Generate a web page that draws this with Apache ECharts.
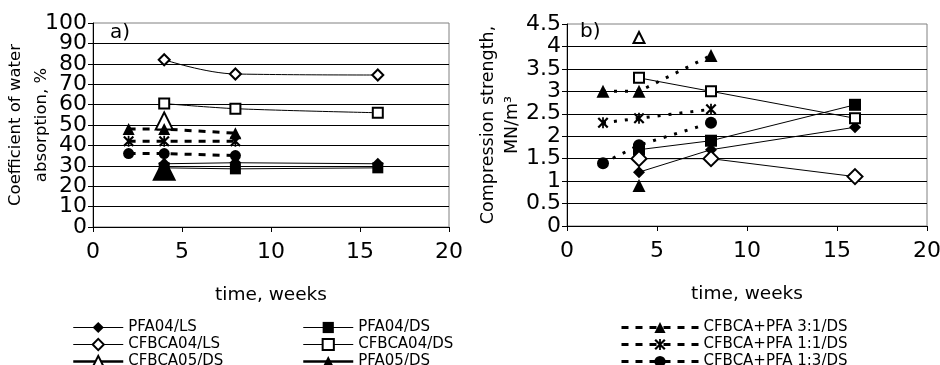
<!DOCTYPE html>
<html><head><meta charset="utf-8">
<script src="https://cdn.jsdelivr.net/npm/echarts@6/dist/echarts.min.js"></script>
<style>html,body{margin:0;padding:0;background:#fff}#c{width:940px;height:365px}</style>
</head><body><div id="c"></div>
<script>
// ---- x values (weeks) ----
const weeksLong = [4, 8, 16];
const weeksBlend = [2, 4, 8];
const weeksSingle = [4];

// ---- axis ticks ----
const xTicks = [0, 5, 10, 15, 20];
const yTicksA = [0, 10, 20, 30, 40, 50, 60, 70, 80, 90, 100];
const yTicksB = [0, 0.5, 1, 1.5, 2, 2.5, 3, 3.5, 4, 4.5];

// ---- a) coefficient of water absorption, % ----
const absPFA04LS = [31, 31.5, 31];
const absPFA04DS = [29, 28.5, 29];
const absCFBCA04LS = [82, 75, 74.5];
const absCFBCA04DS = [60.5, 58, 56];
const absCFBCA05DS = [52];
const absPFA05DS = [28.5];
const abs31 = [48, 48, 46];
const abs11 = [42, 42, 42];
const abs13 = [36, 36, 35];

// ---- b) compression strength, MN/m3 ----
const csPFA04LS = [1.2, 1.7, 2.2];
const csPFA04DS = [1.7, 1.9, 2.7];
const csCFBCA04LS = [1.5, 1.5, 1.1];
const csCFBCA04DS = [3.3, 3.0, 2.4];
const csCFBCA05DS = [4.2];
const csPFA05DS = [0.9];
const cs31 = [3.0, 3.0, 3.8];
const cs11 = [2.3, 2.4, 2.6];
const cs13 = [1.4, 1.8, 2.3];

const namesCol1 = ['PFA04/LS', 'CFBCA04/LS', 'CFBCA05/DS'];
const namesCol2 = ['PFA04/DS', 'CFBCA04/DS', 'PFA05/DS'];
const namesBlend = ['CFBCA+PFA 3:1/DS', 'CFBCA+PFA 1:1/DS', 'CFBCA+PFA 1:3/DS'];
const thickLegendNames = ['CFBCA05/DS', 'PFA05/DS'];

const FONT = 'DejaVu Sans';
const ASTER = 'path://M0,1.4L1.4,0L10,8.6L8.6,10ZM8.6,0L10,1.4L1.4,10L0,8.6ZM4.2,0L5.8,0L5.8,10L4.2,10Z';

function pairs(xs, ys) { return xs.map((x, i) => [x, ys[i]]); }

// y axis index: chart a uses 0 (plus a label-only twin at 1), chart b uses 2
function mk(name, g, xs, ys, symbol, size, open, lw, dash, smooth) {
  return {
    type: 'line', name: name, xAxisIndex: g, yAxisIndex: g === 0 ? 0 : 2,
    data: pairs(xs, ys), symbol: symbol, symbolSize: size, showSymbol: true,
    smooth: smooth || false, animation: false, silent: true,
    lineStyle: { color: '#000', width: lw, type: dash || 'solid' },
    itemStyle: open ? { color: '#fff', borderColor: '#000', borderWidth: 2 }
                    : { color: '#000', borderWidth: 0 },
    emphasis: { disabled: true }
  };
}

const series = [
  // chart a
  mk('PFA04/LS', 0, weeksLong, absPFA04LS, 'diamond', 12, false, 1),
  mk('PFA04/DS', 0, weeksLong, absPFA04DS, 'rect', 11, false, 1),
  mk('CFBCA04/LS', 0, weeksLong, absCFBCA04LS, 'diamond', 11, true, 1, null, 0.4),
  mk('CFBCA04/DS', 0, weeksLong, absCFBCA04DS, 'rect', 10, true, 1, null, 0.3),
  mk('CFBCA05/DS', 0, weeksSingle, absCFBCA05DS, 'triangle', 17, true, 2.5),
  mk('PFA05/DS', 0, weeksSingle, absPFA05DS, 'triangle', 24, false, 2.5),
  mk('CFBCA+PFA 3:1/DS', 0, weeksBlend, abs31, 'triangle', 12, false, 3, [7, 7]),
  mk('CFBCA+PFA 1:1/DS', 0, weeksBlend, abs11, ASTER, 11, false, 3, [7, 7]),
  mk('CFBCA+PFA 1:3/DS', 0, weeksBlend, abs13, 'circle', 11, false, 3, [7, 7]),
  // chart b
  mk('PFA04/LS', 1, weeksLong, csPFA04LS, 'diamond', 12, false, 1),
  mk('PFA04/DS', 1, weeksLong, csPFA04DS, 'rect', 12, false, 1),
  mk('CFBCA04/LS', 1, weeksLong, csCFBCA04LS, 'diamond', 15, true, 1),
  mk('CFBCA04/DS', 1, weeksLong, csCFBCA04DS, 'rect', 10, true, 1),
  mk('CFBCA05/DS', 1, weeksSingle, csCFBCA05DS, 'triangle', 11, true, 2.5),
  mk('PFA05/DS', 1, weeksSingle, csPFA05DS, 'triangle', 13, false, 2.5),
  mk('CFBCA+PFA 3:1/DS', 1, weeksBlend, cs31, 'triangle', 13, false, 3, [3, 8]),
  mk('CFBCA+PFA 1:1/DS', 1, weeksBlend, cs11, ASTER, 11, false, 3, [3, 8]),
  mk('CFBCA+PFA 1:3/DS', 1, weeksBlend, cs13, 'circle', 12, false, 3, [3, 8])
];

function xAx(g) {
  return {
    gridIndex: g, type: 'value', min: xTicks[0], max: xTicks[xTicks.length - 1],
    interval: xTicks[1] - xTicks[0],
    axisLine: { show: true, onZero: false, lineStyle: { color: '#000', width: 1 } },
    axisTick: { show: true, length: 5, lineStyle: { color: '#000' } },
    axisLabel: { fontSize: 22, color: '#000', fontFamily: FONT, margin: 14, showMinLabel: true, showMaxLabel: true, hideOverlap: false },
    splitLine: { show: false },
    name: 'time, weeks', nameLocation: 'middle', nameGap: 59, nameMoveOverlap: false,
    nameTextStyle: { fontSize: 18.5, color: '#000', fontFamily: FONT }
  };
}
function yAx(g, ticks, name, gap, lh, fs, labelValues) {
  const ax = {
    gridIndex: g, type: 'value', min: ticks[0], max: ticks[ticks.length - 1],
    interval: ticks[1] - ticks[0],
    axisLine: { show: true, onZero: false, lineStyle: { color: '#000', width: 1 } },
    axisTick: { show: true, length: 5, lineStyle: { color: '#000' } },
    axisLabel: { fontSize: 22, color: '#000', fontFamily: FONT, margin: 6, showMinLabel: true, showMaxLabel: true, hideOverlap: false },
    splitLine: { show: true, showMinLine: false, showMaxLine: false, lineStyle: { color: '#000', width: 1 } },
    name: name, nameLocation: 'middle', nameRotate: 90, nameGap: gap, nameMoveOverlap: false,
    nameTextStyle: { fontSize: fs, color: '#000', fontFamily: FONT, lineHeight: lh }
  };
  if (labelValues) ax.axisLabel.customValues = labelValues;
  return ax;
}
// twin axis on the same grid that carries only the remaining tick labels
function yTwin(g, ticks, labelValues) {
  return {
    gridIndex: g, type: 'value', position: 'left', offset: 0,
    min: ticks[0], max: ticks[ticks.length - 1], interval: ticks[1] - ticks[0],
    axisLine: { show: false }, axisTick: { show: false }, splitLine: { show: false },
    axisLabel: { fontSize: 22, color: '#000', fontFamily: FONT, margin: 6, showMinLabel: true, showMaxLabel: true, hideOverlap: false, customValues: labelValues }
  };
}
function lg(left, names, w, lw) {
  return {
    orient: 'vertical', left: left, top: 320, height: 80, selectedMode: false,
    data: names.map(n => ({ name: n, lineStyle: { width: thickLegendNames.indexOf(n) >= 0 ? 2.5 : lw } })),
    itemWidth: w, itemHeight: 14, itemGap: 2, padding: 0,
    textStyle: { fontSize: 15, color: '#000', fontFamily: FONT, lineHeight: 14 }
  };
}

const yLabelsA1 = yTicksA.filter((v, i) => i % 2 === 0);
const yLabelsA2 = yTicksA.filter((v, i) => i % 2 === 1);

const chart = echarts.init(document.getElementById('c'), null, { renderer: 'canvas' });
chart.setOption({
  backgroundColor: '#fff',
  animation: false,
  grid: [
    { left: 93, top: 23, width: 356, height: 204, show: true, borderColor: '#808080', borderWidth: 1, backgroundColor: 'transparent', containLabel: false, outerBoundsMode: 'none' },
    { left: 567, top: 24, width: 360, height: 202, show: true, borderColor: '#808080', borderWidth: 1, backgroundColor: 'transparent', containLabel: false, outerBoundsMode: 'none' }
  ],
  xAxis: [xAx(0), xAx(1)],
  yAxis: [
    yAx(0, yTicksA, 'Coefficient of water\nabsorption, %', 38, 26, 16.5, yLabelsA1),
    yTwin(0, yTicksA, yLabelsA2),
    yAx(1, yTicksB, 'Compression strength,\nMN/m³', 43, 24, 17.5)
  ],
  legend: [lg(72, namesCol1, 50, 1), lg(302, namesCol2, 50, 1), lg(620, namesBlend, 77, 3)],
  graphic: [
    { type: 'text', left: 110, top: 23, style: { text: 'a)', fontSize: 20, fontFamily: FONT, fill: '#000' } },
    { type: 'text', left: 580, top: 22, style: { text: 'b)', fontSize: 20, fontFamily: FONT, fill: '#000' } }
  ],
  series: series
});
</script></body></html>
